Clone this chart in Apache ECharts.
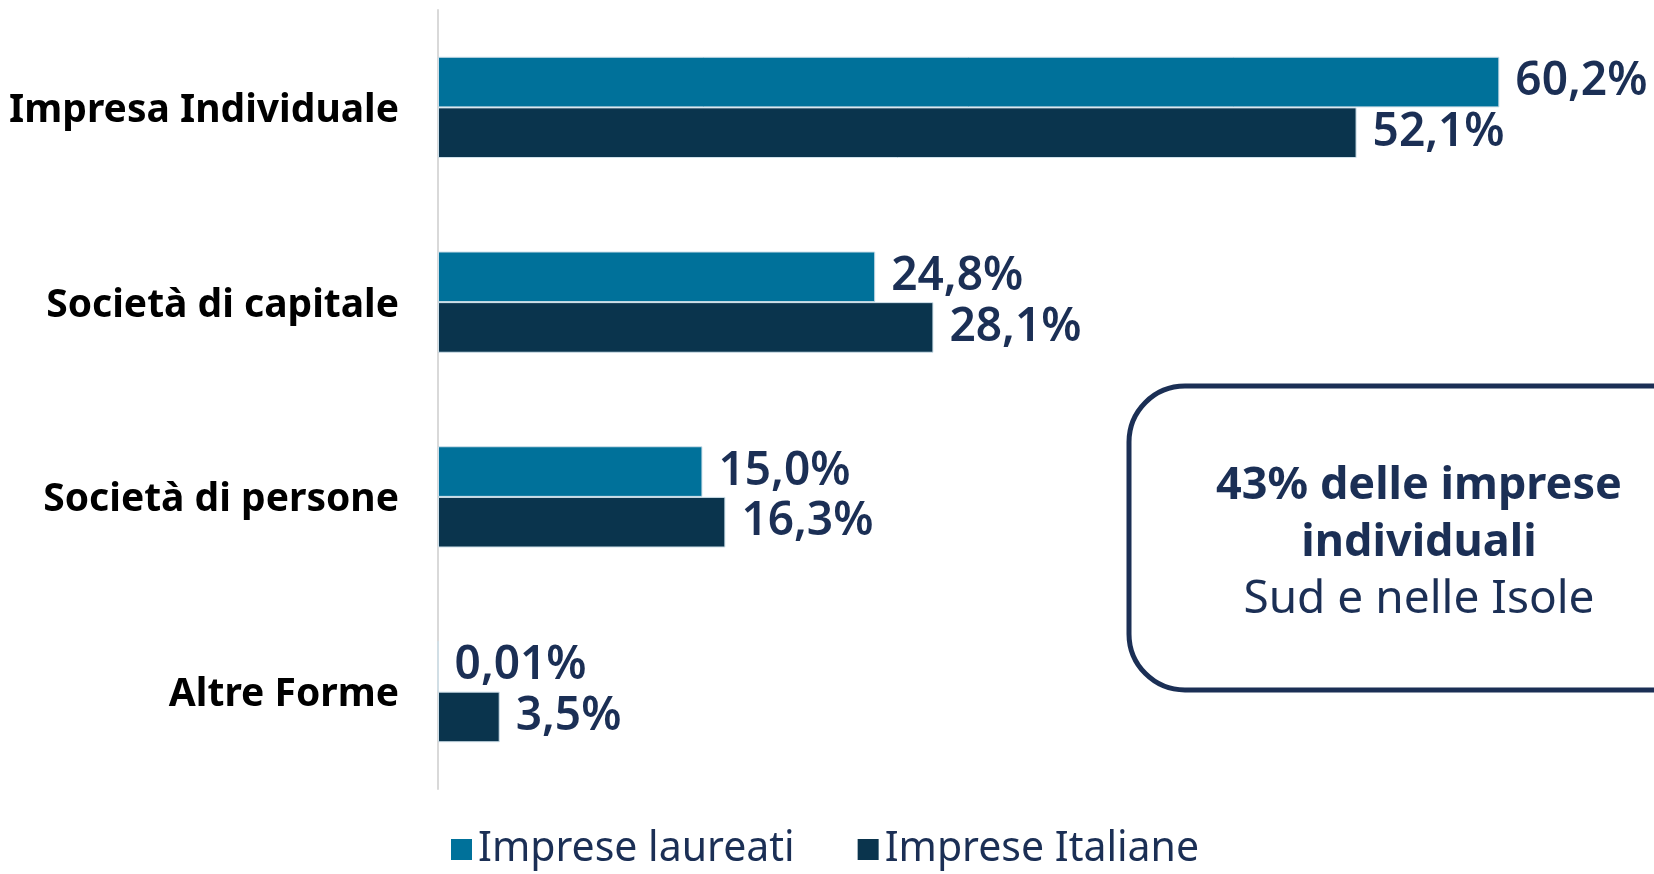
<!DOCTYPE html>
<html>
<head>
<meta charset="utf-8">
<script src="https://cdn.jsdelivr.net/npm/echarts@6/dist/echarts.min.js"></script>
<style>
  html, body { margin: 0; padding: 0; background: #fff; }
  #chart { width: 1654px; height: 874px; }
</style>
</head>
<body>
<div id="chart"></div>
<script>
// dati
const categorie = ['Impresa Individuale', 'Società di capitale', 'Società di persone', 'Altre Forme']
const laureati = [60.2, 24.8, 15.0, 0.01]
const italiane = [52.1, 28.1, 16.3, 3.5]
const etichetteLaureati = ['60,2%', '24,8%', '15,0%', '0,01%']
const etichetteItaliane = ['52,1%', '28,1%', '16,3%', '3,5%']

const blu = '#1b2f55'
const chart = echarts.init(document.getElementById('chart'))

const labelStyle = (testi) => ({
    show: true,
    position: 'right',
    distance: 16,
    color: blu,
    fontFamily: 'Noto Sans',
    fontWeight: 600,
    fontSize: 46,
    formatter: (p) => testi[p.dataIndex]
})

const option = {
    animation: false,
    grid: { left: 438, right: 70, top: 10, bottom: 85 },
    legend: {
        left: 446,
        top: 824,
        itemWidth: 21,
        itemHeight: 21,
        itemGap: 63,
        icon: 'rect',
        itemStyle: { borderWidth: 0 },
        textStyle: { color: blu, fontFamily: 'Noto Sans', fontSize: 41, padding: [0, 0, 0, 1] },
        data: ['Imprese laureati', 'Imprese Italiane']
    },
    xAxis: {
        type: 'value',
        min: 0,
        max: 65,
        show: false
    },
    yAxis: {
        type: 'category',
        inverse: true,
        data: categorie,
        axisTick: { show: false },
        axisLine: { show: true, lineStyle: { color: '#d9d9d9', width: 2 } },
        axisLabel: {
            margin: 39,
            formatter: (v) => '{c|' + v + '}',
            rich: {
                c: {
                    color: '#000',
                    fontFamily: 'Noto Sans',
                    fontWeight: 'bold',
                    fontSize: 39,
                    padding: [7, 0, 0, 0]
                }
            }
        }
    },
    series: [
        {
            name: 'Imprese laureati',
            type: 'bar',
            data: laureati,
            barGap: '0%',
            barCategoryGap: '48%',
            itemStyle: { color: '#00719a', borderColor: '#cfe0ea', borderWidth: 1 },
            label: labelStyle(etichetteLaureati)
        },
        {
            name: 'Imprese Italiane',
            type: 'bar',
            data: italiane,
            barGap: '0%',
            barCategoryGap: '48%',
            itemStyle: { color: '#0a344d', borderColor: '#cfe0ea', borderWidth: 1 },
            label: labelStyle(etichetteItaliane)
        }
    ],
    graphic: [
        {
            type: 'rect',
            shape: { x: 1129, y: 386, width: 620, height: 304, r: 56 },
            style: { fill: '#fff', stroke: blu, lineWidth: 5 },
            z: 10
        },
        {
            type: 'text',
            x: 1419,
            y: 543,
            z: 11,
            style: {
                text: '{b|43% delle imprese}\n{b|individuali}\n{n|Sud e nelle Isole}',
                align: 'center',
                verticalAlign: 'middle',
                fill: blu,
                rich: {
                    b: { fontFamily: 'Noto Sans', fontWeight: 'bold', fontSize: 45, lineHeight: 57, fill: blu },
                    n: { fontFamily: 'Noto Sans', fontSize: 46, lineHeight: 57, fill: blu }
                }
            }
        }
    ]
}
chart.setOption(option)
</script>
</body>
</html>
